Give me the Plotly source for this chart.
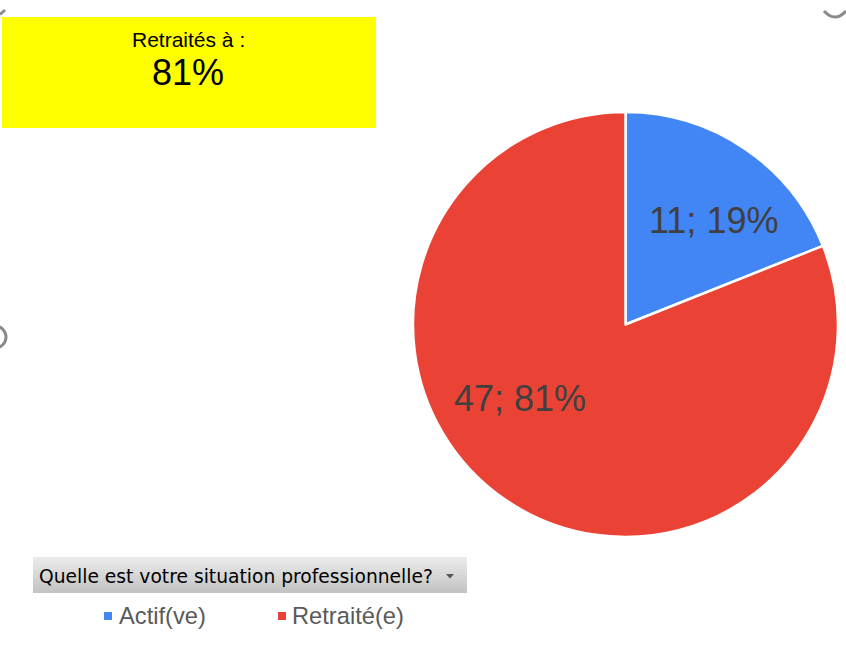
import plotly.graph_objects as go

# Survey answers: professional situation
categories = ["Actif(ve)", "Retraité(e)"]
counts = [11, 47]
colors = ["#4285F4", "#EA4335"]
question = "Quelle est votre situation professionnelle?"
highlight_title = "Retraités à :"
highlight_category = "Retraité(e)"

W, H = 846, 670


def px(x):
    return x / W


def py(y):
    return 1 - y / H


total = sum(counts)
pcts = [round(100 * c / total) for c in counts]

# Pie placed inside a square pixel box
cx, cy, r = 625.5, 324.5, 212.5
fig = go.Figure(
    go.Pie(
        labels=categories,
        values=counts,
        sort=False,
        direction="clockwise",
        rotation=0,
        marker=dict(colors=colors, line=dict(color="white", width=2.5)),
        textinfo="none",
        hoverinfo="label+value+percent",
        showlegend=False,
        domain=dict(x=[px(cx - r), px(cx + r)], y=[py(cy + r), py(cy - r)]),
    )
)

shapes = []
annotations = []

# Slice labels "count; pct%"
label_pos = [(713, 220), (520, 398)]
for (lx, ly), c, p in zip(label_pos, counts, pcts):
    annotations.append(dict(
        x=px(lx), y=py(ly), xref="paper", yref="paper",
        text=f"{c}; {p}%", showarrow=False,
        font=dict(family="Liberation Sans, Arial", size=36, color="#404040"),
        xanchor="center", yanchor="middle",
    ))

# Yellow highlight box
shapes.append(dict(type="rect", xref="paper", yref="paper",
                   x0=px(2), x1=px(376), y0=py(128), y1=py(17),
                   fillcolor="#FFFF00", line=dict(width=0), layer="below"))
hi = categories.index(highlight_category)
annotations.append(dict(
    x=px(188), y=py(40), xref="paper", yref="paper", text=highlight_title,
    showarrow=False, xanchor="center", yanchor="middle",
    font=dict(family="Liberation Sans, Arial", size=21, color="#000000"),
))
annotations.append(dict(
    x=px(188), y=py(72), xref="paper", yref="paper", text=f"{pcts[hi]}%",
    showarrow=False, xanchor="center", yanchor="middle",
    font=dict(family="Liberation Sans, Arial", size=36, color="#000000"),
))

# Filter drop-down bar with a vertical grey gradient
bx0, bx1, by0, by1 = 33, 467, 557, 593
n = 12
top_c, bot_c = (234, 234, 234), (196, 196, 196)
for i in range(n):
    t = i / (n - 1)
    col = tuple(round(a + (b - a) * t) for a, b in zip(top_c, bot_c))
    y0 = by0 + (by1 - by0) * i / n
    y1 = by0 + (by1 - by0) * (i + 1) / n
    shapes.append(dict(type="rect", xref="paper", yref="paper",
                       x0=px(bx0), x1=px(bx1), y0=py(y1), y1=py(y0),
                       fillcolor="rgb(%d,%d,%d)" % col, line=dict(width=0),
                       layer="below"))
annotations.append(dict(
    x=px(37), y=py(576), xref="paper", yref="paper", text=question,
    showarrow=False, xanchor="left", yanchor="middle",
    font=dict(family="DejaVu Sans", size=18.7, color="#000000"),
))
# drop-down arrow
shapes.append(dict(type="path", xref="paper", yref="paper",
                   path=f"M {px(446)},{py(574)} L {px(454)},{py(574)} L {px(450)},{py(578.5)} Z",
                   fillcolor="#555555", line=dict(width=0)))

# Legend: small coloured squares with category names
legend_x = [(108, 117), (282, 290)]
for (sx, tx), name, col in zip(legend_x, categories, colors):
    shapes.append(dict(type="rect", xref="paper", yref="paper",
                       x0=px(sx - 4), x1=px(sx + 4), y0=py(620), y1=py(612),
                       fillcolor=col, line=dict(width=0)))
    annotations.append(dict(
        x=px(tx), y=py(616), xref="paper", yref="paper", text=name,
        showarrow=False, xanchor="left", yanchor="middle",
        font=dict(family="Liberation Sans, Arial", size=23.7, color="#5a5a5a"),
    ))

# Selection handles peeking in at the edges
handle = dict(color="#8a8a8a", width=3)
shapes.append(dict(type="circle", xref="paper", yref="paper",
                   x0=px(-16), x1=px(6), y0=py(348), y1=py(326), line=handle))
shapes.append(dict(type="path", xref="paper", yref="paper",
                   path=f"M {px(824)},{py(11)} Q {px(835)},{py(23)} {px(846)},{py(11)}",
                   line=handle))
shapes.append(dict(type="path", xref="paper", yref="paper",
                   path=f"M {px(0)},{py(14.5)} L {px(5)},{py(10)}",
                   line=handle))

fig.update_layout(
    width=W, height=H,
    margin=dict(l=0, r=0, t=0, b=0),
    paper_bgcolor="white",
    plot_bgcolor="white",
    shapes=shapes,
    annotations=annotations,
)

fig.write_html("out.html")
